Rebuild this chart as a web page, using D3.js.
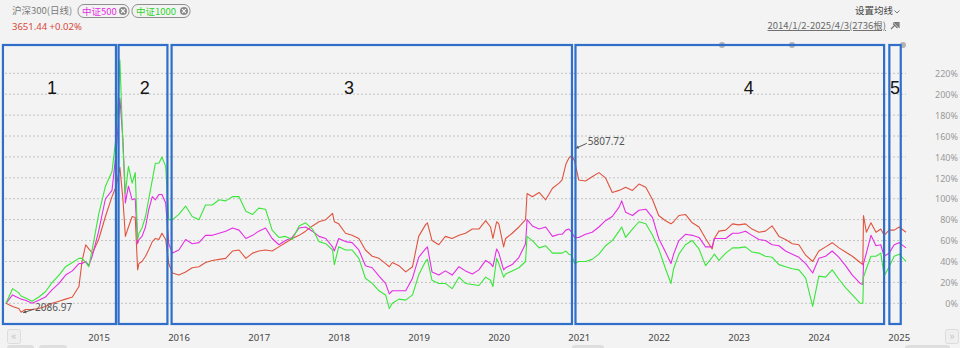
<!DOCTYPE html>
<html>
<head>
<meta charset="utf-8">
<script src="https://cdn.jsdelivr.net/npm/d3@7"></script>
<style>
  html, body { margin: 0; padding: 0; background: #f3f3f3; }
  svg { display: block; font-family: "Noto Sans CJK SC", "Noto Sans", sans-serif; }
</style>
</head>
<body>
<svg id="chart" width="960" height="348"></svg>
<script>
// Observation dates shared by the three index series
const dates = [
  "2014-01-02","2014-02-01","2014-03-01","2014-03-12","2014-04-01","2014-05-01","2014-06-01","2014-07-01",
  "2014-08-01","2014-09-01","2014-10-01","2014-11-01","2014-12-01","2014-12-15","2015-01-01","2015-01-15",
  "2015-02-01","2015-03-01","2015-04-01","2015-05-01","2015-05-20","2015-06-01","2015-06-06","2015-06-20",
  "2015-07-01","2015-07-15","2015-08-01","2015-08-15","2015-08-26","2015-09-01","2015-09-15","2015-10-01",
  "2015-10-15","2015-11-01","2015-11-15","2015-12-01","2015-12-15","2016-01-01","2016-01-15","2016-02-01",
  "2016-03-01","2016-04-01","2016-05-01","2016-06-01","2016-07-01","2016-08-01","2016-09-01","2016-10-01",
  "2016-11-01","2016-12-01","2017-01-01","2017-02-01","2017-03-01","2017-04-01","2017-05-01","2017-06-01",
  "2017-07-01","2017-08-01","2017-09-01","2017-10-01","2017-11-01","2017-12-01","2018-01-01","2018-02-01",
  "2018-02-09","2018-03-01","2018-04-01","2018-05-01","2018-06-01","2018-07-01","2018-08-01","2018-09-01",
  "2018-10-01","2018-10-18","2018-11-01","2018-12-01","2019-01-01","2019-02-01","2019-03-01","2019-04-01",
  "2019-04-10","2019-05-01","2019-06-01","2019-07-01","2019-08-01","2019-09-01","2019-10-01","2019-11-01",
  "2019-12-01","2020-01-01","2020-01-23","2020-02-03","2020-02-20","2020-03-01","2020-03-23","2020-04-01",
  "2020-05-01","2020-06-01","2020-07-01","2020-07-08","2020-08-01","2020-09-01","2020-10-01","2020-11-01",
  "2020-12-01","2020-12-15","2021-01-01","2021-01-15","2021-01-28","2021-02-10","2021-03-01","2021-04-01",
  "2021-05-01","2021-06-01","2021-07-01","2021-08-01","2021-09-01","2021-09-13","2021-10-01","2021-11-01",
  "2021-12-01","2022-01-01","2022-02-01","2022-03-01","2022-04-01","2022-04-26","2022-05-08","2022-06-01",
  "2022-07-01","2022-08-01","2022-09-01","2022-10-01","2022-10-31","2022-11-10","2022-12-01","2023-01-01",
  "2023-02-01","2023-03-01","2023-04-01","2023-05-01","2023-06-01","2023-07-01","2023-08-01","2023-09-01",
  "2023-10-01","2023-11-01","2023-12-01","2024-01-01","2024-02-02","2024-03-01","2024-04-01","2024-05-01",
  "2024-06-01","2024-07-01","2024-08-01","2024-09-06","2024-09-18","2024-09-21","2024-10-04","2024-10-25",
  "2024-11-17","2024-12-09","2024-12-24","2025-01-16","2025-02-08","2025-03-03","2025-04-03"
];

// Cumulative change (%) since 2014-01-02
const hs300 = [
  0,-3,-5,-8.5,-6,-6,-5,-3, 0,2,4,6,16,40,56,52,
  48,61,83,102,112,125,130,99, 64,73,83,82,32,38,40,45,
  51,59,62,61,67,61,38,29, 27,30,34,35,39,41,42,43,
  50,51,43,48,50,51,50,54, 58,62,65,69,74,78,80,86,
  78,76,67,65,62,51,45,43, 38,35,39,36,30,35,64,75,
  77,60,56,64,62,65,67,71, 71,79,73,62,78,76,54,62,
  67,73,80,105,102,106,99,110, 115,118,133,139,141.5,136,118,117,
  121,125,120,106,108,109,111,108, 114,111,99,84,79,76,78,84,
  85,77,73,62,52,62,69,70, 76,75,76,71,68,69,74,64,
  61,57,56,46,40,50,54,58, 53,49,45,39,37,84,68,77,
  68,71,65,70,70,73,68
];
const zz500 = [
  0,8,5,4,3,0,3,6, 13,19,27,31,38,38,40,36,
  46,69,100,108,145,180,196,156, 96,112,99,100,57,61,64,73,
  89,102,99,104,104,96,57,48, 51,61,57,58,65,65,67,69,
  72,70,62,65,69,72,62,56, 60,63,72,73,69,64,62,54,
  50,62,59,58,51,36,34,26, 19,9,12,12,12,24,44,52,
  54,30,27,31,27,35,31,28, 32,41,38,35,52,48,32,34,
  37,44,57,80,74,71,73,64, 66,66,70,71,68,63,63,66,
  68,73,79,83,92,98,87,84, 89,90,82,62,49,38,47,60,
  66,65,63,54,54,62,62,62, 67,67,69,65,61,60,56,55,
  50,47,44,38,29,43,45,50, 44,36,27,19,18,38,48,65,
  55,56,45,48,56,58,53
];
const zz1000 = [
  0,14,10,7,5,2,6,11, 20,27,35,39,43,43,39,35,
  53,85,112,126,160,205,233,150, 105,131,115,125,61,67,72,83,
  99,118,134,134,140,131,80,80, 85,93,83,80,94,94,99,98,
  102,102,88,85,91,90,70,63, 64,61,74,77,71,59,57,51,
  37,54,51,51,43,24,19,12, 8,-5,0,4,3,8,27,40,
  42,22,19,19,14,25,19,18, 17,25,22,16,43,38,25,28,
  31,34,40,64,60,53,55,48, 48,48,50,47,46,38,40,40,
  42,47,55,60,69,73,63,71, 78,76,65,52,33,19,33,47,
  56,60,52,36,44,47,41,48, 53,53,54,49,48,45,44,37,
  35,33,32,24,-3,26,25,32, 23,15,8,0,0,25,33,45,
  45,48,26,35,45,47,40
];

const seriesNames  = ["沪深300", "中证500", "中证1000"];
const seriesColors = ["#e0533f", "#e52ee5", "#3ae63a"];

const yTicks = [0, 20, 40, 60, 80, 100, 120, 140, 160, 180, 200, 220];
const yearTicks = ["2015-01-01","2016-01-01","2017-01-01","2018-01-01","2019-01-01","2020-01-01",
                   "2021-01-01","2022-01-01","2023-01-01","2024-01-01","2025-01-01"];

// Highlighted market phases
const periodIds    = ["1", "2", "3", "4", "5"];
const periodStarts = ["2013-12-19", "2015-05-31", "2016-01-28", "2021-02-14", "2025-01-17"];
const periodEnds   = ["2015-05-19", "2016-01-09", "2021-01-29", "2024-12-24", "2025-03-10"];
const periodMarks  = ["2014-07-31", "2015-09-28", "2018-04-17", "2023-04-16", "2025-02-12"];

// Price notes for the 沪深300 extremes
const hs300High = "5807.72";
const hs300Low  = "2086.97";

const parse = d3.utcParse("%Y-%m-%d");
const svg = d3.select("#chart");

const x = d3.scaleUtc().domain([parse("2014-01-02"), parse("2025-04-03")]).range([6, 906]);
const y = d3.scaleLinear().domain([0, 220]).range([303.3, 73.3]);

const plotTop = 45, plotBottom = 324, plotLeft = 5, plotRight = 906;

// Background
svg.append("rect").attr("width", 960).attr("height", 348).attr("fill", "#f3f3f3");

// Header
svg.append("text").attr("x", 12).attr("y", 14).attr("font-size", 9.5).attr("fill", "#7a7a7a").text("沪深300(日线)");

function pill(x0, w, label, color) {
  const g = svg.append("g");
  g.append("rect").attr("x", x0 + 0.5).attr("y", 4.5).attr("width", w).attr("height", 13)
    .attr("rx", 6).attr("fill", "none").attr("stroke", "#8e8e8e");
  g.append("text").attr("x", x0 + 4.5).attr("y", 14.5).attr("font-size", 9.5).attr("fill", color).text(label);
  const cx = x0 + w - 5.5, cy = 11;
  g.append("circle").attr("cx", cx).attr("cy", cy).attr("r", 4).attr("fill", "#8a8a8a");
  g.append("path").attr("d", `M${cx-1.8},${cy-1.8}L${cx+1.8},${cy+1.8}M${cx+1.8},${cy-1.8}L${cx-1.8},${cy+1.8}`)
    .attr("stroke", "#fff").attr("stroke-width", 1.1);
}
pill(77.5, 51, seriesNames[1], seriesColors[1]);
pill(131.5, 58, seriesNames[2], "#2fd42f");

svg.append("text").attr("x", 12).attr("y", 29.5).attr("font-size", 9.5).attr("fill", "#d9473c")
  .attr("font-family", "'Noto Sans', sans-serif").text("3651.44 +0.02%");

svg.append("text").attr("x", 855).attr("y", 14).attr("font-size", 9.5).attr("fill", "#444").text("设置均线");
svg.append("path").attr("d", "M894.5,10.5L897,13L899.5,10.5").attr("fill", "none").attr("stroke", "#777");
const rangeText = svg.append("text").attr("x", 886).attr("y", 29).attr("text-anchor", "end")
  .attr("font-size", 9.5).attr("fill", "#6a6a6a").attr("text-decoration", "underline")
  .text("2014/1/2-2025/4/3(2736根)");
// pin icon
svg.append("path").attr("d", "M891,29L894.5,25.5M893,23.5L897.5,28M894.5,22.5L899,22.5L899,27Z")
  .attr("fill", "#888").attr("stroke", "#777").attr("stroke-width", 1.2);

// Horizontal dotted grid
svg.append("g").selectAll("line").data(yTicks).join("line")
  .attr("x1", plotLeft).attr("x2", plotRight)
  .attr("y1", d => y(d)).attr("y2", d => y(d))
  .attr("stroke", "#c2c2c2").attr("stroke-dasharray", "2,2");

// Right value axis
const yAxis = svg.append("g").attr("transform", "translate(958,0)")
  .call(d3.axisLeft(y).tickValues(yTicks).tickSize(0).tickPadding(0).tickFormat(d => d + "%"));
yAxis.select(".domain").remove();
yAxis.selectAll("text").attr("font-size", 9).attr("fill", "#9a9a9a").attr("dy", "0.35em")
  .attr("font-family", "'Noto Sans', sans-serif");

// Time axis
const xAxis = svg.append("g").attr("transform", "translate(0,334)")
  .call(d3.axisBottom(x).tickValues(yearTicks.map(parse)).tickSize(0).tickPadding(0)
    .tickFormat(d3.utcFormat("%Y")));
xAxis.select(".domain").remove();
xAxis.selectAll("text").attr("text-anchor", "start").attr("dx", 2).attr("dy", "0.7em")
  .attr("font-size", 9.5).attr("fill", "#444").attr("font-family", "'Noto Sans', sans-serif");

// Scroll buttons and footer tabs
function navButton(x0, glyph) {
  svg.append("rect").attr("x", x0 + 0.5).attr("y", 329.5).attr("width", 13).attr("height", 14)
    .attr("rx", 2).attr("fill", "#efefef").attr("stroke", "#dcdcdc");
  svg.append("text").attr("x", x0 + 7).attr("y", 340).attr("text-anchor", "middle")
    .attr("font-size", 11).attr("fill", "#c4c4c4").text(glyph);
}
navButton(7, "«");
navButton(945, "»");
[[7, 27], [39, 28], [572, 32], [905, 45]].forEach(([x0, w]) => {
  svg.append("rect").attr("x", x0).attr("y", 345).attr("width", w).attr("height", 8)
    .attr("rx", 3).attr("fill", "#dedede");
});
[722, 792, 903].forEach(cx => {
  svg.append("circle").attr("cx", cx).attr("cy", 45).attr("r", 3).attr("fill", "#b3b3b3");
});

// Index lines
const rows = dates.map((d, i) => ({ date: parse(d), v: [hs300[i], zz500[i], zz1000[i]] }));
const lineGen = k => d3.line().x(d => x(d.date)).y(d => y(d.v[k]));
[0, 1, 2].forEach(k => {
  svg.append("path").datum(rows).attr("d", lineGen(k))
    .attr("fill", "none").attr("stroke", seriesColors[k]).attr("stroke-width", 1.1)
    .attr("stroke-linejoin", "round");
});

// Extreme notes on 沪深300
const hi = rows[d3.maxIndex(rows, d => d.v[0])];
const lo = rows[d3.minIndex(rows, d => d.v[0])];
function note(px, py, tipDx, tipDy, tailDx, tailDy, label, tx, ty) {
  const x1 = px + tipDx, y1 = py + tipDy, x2 = px + tailDx, y2 = py + tailDy;
  svg.append("line").attr("x1", x1).attr("y1", y1).attr("x2", x2).attr("y2", y2)
    .attr("stroke", "#555").attr("stroke-width", 1);
  const a = Math.atan2(y1 - y2, x1 - x2);
  const h = 3.5;
  svg.append("path").attr("d",
    `M${x1},${y1}L${x1 - h*Math.cos(a - 0.5)},${y1 - h*Math.sin(a - 0.5)}L${x1 - h*Math.cos(a + 0.5)},${y1 - h*Math.sin(a + 0.5)}Z`)
    .attr("fill", "#555");
  svg.append("text").attr("x", px + tx).attr("y", py + ty).attr("font-size", 10).attr("fill", "#555")
    .attr("font-family", "'Noto Sans', sans-serif").text(label);
}
note(x(hi.date), y(hi.v[0]), 4, -7, 15, -12, hs300High, 16, -10);
note(x(lo.date), y(lo.v[0]), 2, 0.5, 13, -3, hs300Low, 14, -1.5);

// Phase boxes with their numbers
periodIds.forEach((id, i) => {
  const x0 = x(parse(periodStarts[i])), x1 = x(parse(periodEnds[i]));
  svg.append("rect").attr("x", x0).attr("y", plotTop).attr("width", x1 - x0).attr("height", plotBottom - plotTop)
    .attr("fill", "none").attr("stroke", "#2f6fca").attr("stroke-width", 2.2);
  svg.append("text").attr("x", x(parse(periodMarks[i]))).attr("y", 94).attr("text-anchor", "middle")
    .attr("font-size", 18).attr("fill", "#151515").attr("font-family", "'Liberation Sans', sans-serif")
    .text(id);
});
</script>
</body>
</html>
